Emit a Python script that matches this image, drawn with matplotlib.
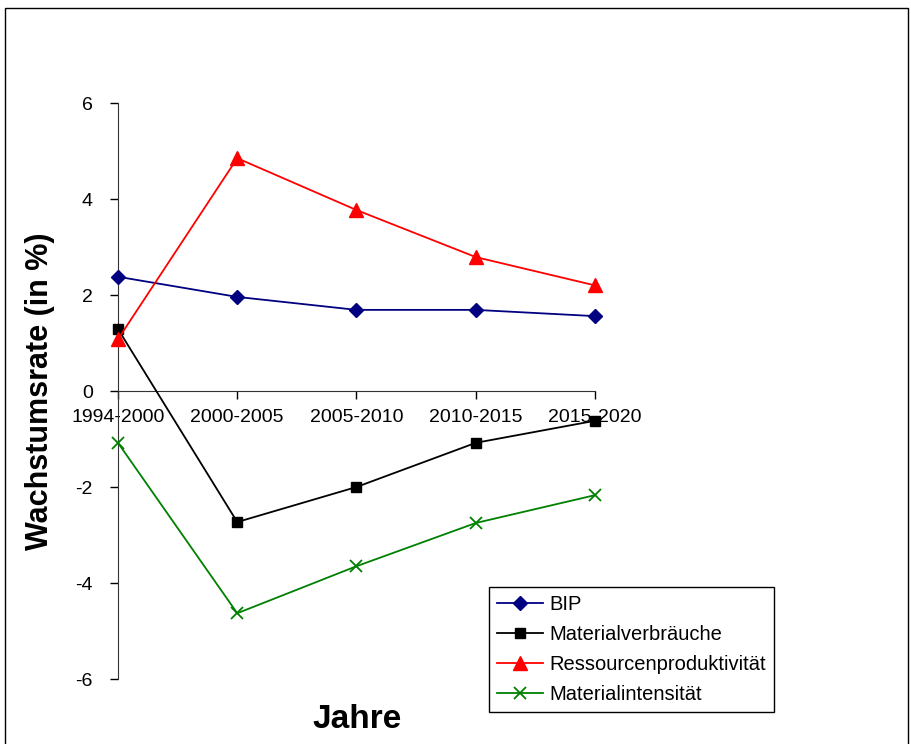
import matplotlib
matplotlib.use("Agg")
import matplotlib.pyplot as plt
from matplotlib.patches import Rectangle

plt.rcParams['font.family'] = ['Liberation Sans', 'DejaVu Sans']
plt.rcParams['axes.unicode_minus'] = False

# Zeiträume und Wachstumsraten (in %)
perioden = ["1994-2000", "2000-2005", "2005-2010", "2010-2015", "2015-2020"]
bip = [2.38, 1.96, 1.69, 1.69, 1.56]
materialverbrauch = [1.29, -2.73, -2.0, -1.08, -0.62]
ressourcenproduktivitaet = [1.08, 4.85, 3.77, 2.79, 2.2]
materialintensitaet = [-1.08, -4.63, -3.65, -2.75, -2.17]

fig = plt.figure(figsize=(9.12, 7.44), dpi=100)
ax = fig.add_axes([118/912, 1 - 679/744, (595 - 118)/912, (679 - 103)/744])

# Rahmen um das Diagramm
fig.patches.append(Rectangle((5/912, -0.05), (908 - 5)/912, 1.05 - 8/744,
                             transform=fig.transFigure, fill=False,
                             edgecolor="black", linewidth=1.0))

x = range(len(perioden))
stil = dict(linewidth=1.3, clip_on=False, zorder=3)
ax.plot(x, bip, color="#000080", marker="D", markersize=7.5, label="BIP", **stil)
ax.plot(x, materialverbrauch, color="black", marker="s", markersize=7.5,
        label="Materialverbräuche", **stil)
ax.plot(x, ressourcenproduktivitaet, color="red", marker="^", markersize=9.5,
        label="Ressourcenproduktivität", **stil)
ax.plot(x, materialintensitaet, color="#008000", marker="x", markersize=9,
        markeredgewidth=1.3, label="Materialintensität", **stil)

ax.set_xlim(0, 4)
ax.set_ylim(-6, 6)
ax.set_yticks([-6, -4, -2, 0, 2, 4, 6])
ax.set_xticks(list(x))
ax.set_xticklabels(perioden)
ax.tick_params(axis="y", labelsize=14, direction="out", length=6, width=1, pad=12)
ax.tick_params(axis="x", labelsize=14, direction="out", length=6, width=1, pad=7)

ax.spines["top"].set_visible(False)
ax.spines["right"].set_visible(False)
ax.spines["bottom"].set_position(("data", 0))
ax.spines["left"].set_color("#333333")
ax.spines["bottom"].set_color("#333333")
ax.patch.set_alpha(0)

fig.text(40/912, 1 - 391/744, "Wachstumsrate (in %)", rotation=90, fontsize=22,
         fontweight="bold", ha="center", va="center")
fig.text(357/912, 1 - 720/744, "Jahre", fontsize=24, fontweight="bold",
         ha="center", va="center")

leg = ax.legend(loc="upper left", bbox_to_anchor=(489/912, 1 - 587/744),
                bbox_transform=fig.transFigure, fontsize=14.5, frameon=True,
                fancybox=False, framealpha=1, edgecolor="black", handlelength=2.3,
                labelspacing=0.55, borderpad=0.4, handletextpad=0.3, borderaxespad=0)
leg.get_frame().set_linewidth(1.0)

fig.savefig("out.png", dpi=100)
